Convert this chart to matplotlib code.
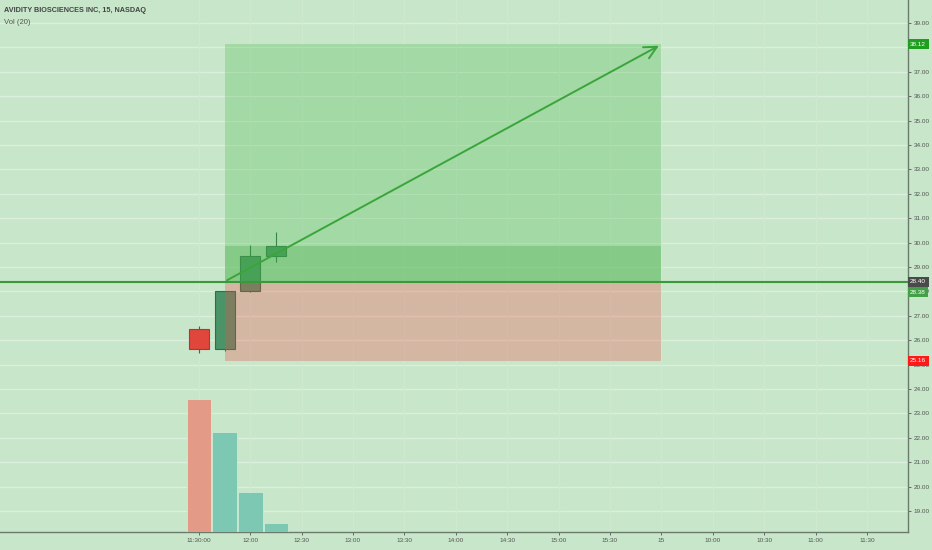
import matplotlib
matplotlib.use("Agg")
import matplotlib.pyplot as plt
from matplotlib.patches import Rectangle

# 15 minute bars, index 0 = 11:30
bar_idx = [0, 1, 2, 3]
opens = [26.46, 25.64, 28.00, 29.45]
highs = [26.58, 28.02, 29.90, 30.43]
lows = [25.48, 25.55, 27.98, 29.20]
closes = [25.64, 28.02, 29.45, 29.86]
volumes = [66500, 50000, 20000, 4500]

tick_idx = [0, 2, 4, 6, 8, 10, 12, 14, 16, 18, 20, 22, 24, 26]
tick_labels = ["11:30:00", "12:00", "12:30", "13:00", "13:30", "14:00", "14:30",
               "15:00", "15:30", "15", "10:00", "10:30", "11:00", "11:30"]
price_ticks = list(range(19, 40))

# long position tool
pos_start, pos_end = 1, 18
entry, target, stop = 28.40, 38.12, 25.16
last_price = 28.38

bg = '#c8e6c9'
plt.rcParams['font.family'] = ['Liberation Sans', 'DejaVu Sans']

fig = plt.figure(figsize=(9.32, 5.5), dpi=100, facecolor=bg)
ax = fig.add_axes([0, 18/550, 908/932, 532/550], facecolor=bg)

# volume on a twin axis
ax2 = ax.twinx()
ax2.set_ylim(0, 4 * max(volumes))
vcols = ['#e39b88' if c < o else '#7cc8b2' for o, c in zip(opens, closes)]
ax2.bar(bar_idx, volumes, width=0.96, color=vcols, edgecolor='#d8eed8', lw=0.5, zorder=1)
ax2.set_yticks([])
for s in ax2.spines.values():
	s.set_visible(False)

ax.set_xlim(-7.74, 27.6)
ax.set_ylim(18.14, 39.94)

# grid
for p in price_ticks:
	ax.axhline(p, color='#dcefdc', lw=1, zorder=0)
for t in tick_idx:
	ax.axvline(t, color='#cfe9d0', lw=0.8, zorder=0)

# candles
for i, o, h, l, c in zip(bar_idx, opens, highs, lows, closes):
	if c >= o:
		fc, ec = '#4a9468', '#2f6e48'
	else:
		fc, ec = '#e0463c', '#a83a32'
	ax.vlines(i, l, h, color=ec, lw=0.8, zorder=2)
	ax.add_patch(Rectangle((i - 0.39, min(o, c)), 0.78, abs(c - o), fc=fc, ec=ec, lw=0.8, zorder=2))

# position boxes
w = pos_end - pos_start
ax.add_patch(Rectangle((pos_start, entry), w, target - entry, fc='#4dbb51', alpha=0.3, lw=0, zorder=3))
ax.add_patch(Rectangle((pos_start, stop), w, entry - stop, fc='#f04d4d', alpha=0.3, lw=0, zorder=3))
ax.add_patch(Rectangle((pos_start, entry), w, closes[-1] - entry, fc='#42aa44', alpha=0.3, lw=0, zorder=3))
ax.axhline(entry, color='#3a9a3a', lw=1.5, zorder=4)
ax.annotate('', xy=(pos_end, target), xytext=(pos_start, entry),
	arrowprops=dict(arrowstyle='->,head_length=0.9,head_width=0.45', color='#3aa53a', lw=1.4), zorder=5)

# axes look
for s in ['top', 'left']:
	ax.spines[s].set_visible(False)
for s in ['right', 'bottom']:
	ax.spines[s].set_color('#6b7b6b')
	ax.spines[s].set_linewidth(1)
ax.set_yticks(price_ticks)
ax.set_yticklabels(['%.2f' % p for p in price_ticks])
ax.set_xticks(tick_idx)
ax.set_xticklabels(tick_labels)
ax.tick_params(axis='both', labelsize=4.6, colors='#555555', length=2, width=0.6, pad=2)
ax.tick_params(axis='y', pad=2, left=False, labelleft=False, right=True, labelright=True)

# price labels on scale
def plabel(price, txt, col, dy=0):
	ax.annotate(txt, xy=(1, price), xycoords=('axes fraction', 'data'),
		xytext=(1.5, dy), textcoords='offset points', fontsize=4.6, color='white',
		va='center', ha='left', annotation_clip=False, zorder=10,
		bbox=dict(boxstyle='square,pad=0.4', fc=col, ec='none'))

plabel(target, '%.2f' % target, '#1f9e1f')
plabel(entry, '%.2f' % entry, '#4a4a4a')
plabel(last_price, '%.2f' % last_price, '#43a047', dy=-7.2)
plabel(stop, '%.2f' % stop, '#ff1a1a')

fig.text(4/932, 1 - 11/550, "AVIDITY BIOSCIENCES INC, 15, NASDAQ", fontsize=5.2,
	color='#444444', weight='bold', va='center')
fig.text(4/932, 1 - 23/550, "Vol (20)", fontsize=5.5, color='#555555', va='center')

fig.savefig('out.png', dpi=100, facecolor=bg)
